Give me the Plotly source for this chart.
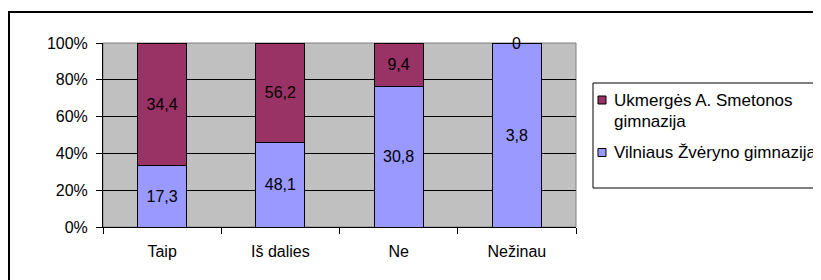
import plotly.graph_objects as go

categories = ["Taip", "Iš dalies", "Ne", "Nežinau"]
vilnius = [17.3, 48.1, 30.8, 3.8]
ukmerge = [34.4, 56.2, 9.4, 0]
series_names = ["Vilniaus Žvėryno gimnazija", "Ukmergės A. Smetonos<br>gimnazija"]
series_colors = ["#9999FF", "#993366"]
y_ticks = [0, 20, 40, 60, 80, 100]
y_tick_labels = ["0%", "20%", "40%", "60%", "80%", "100%"]

# page has an 8px body margin; figure is placed at (8, 8)
OFF = 8
W, H = 821 - OFF, 280 - OFF
L, R, T, B = 103 - OFF, 245, 43 - OFF, 53
PW, PH = W - L - R, H - T - B


def px_x(p):  # page pixel -> paper
    return (p - OFF - L) / PW


def px_y(p):
    return (H - B - (p - OFF)) / PH


def fmt(v):
    return f"{v:g}".replace(".", ",")


FONT = "Liberation Sans, Arial, sans-serif"
FS = 16
LFS = 17

fig = go.Figure()
for vals, name, col in zip([vilnius, ukmerge], series_names, series_colors):
    fig.add_trace(go.Bar(
        x=categories, y=vals, name=name, showlegend=False,
        marker=dict(color=col, line=dict(color="black", width=1)),
        text=[fmt(v) for v in vals], textposition="inside",
        insidetextanchor="middle", textangle=0,
        textfont=dict(color="black", size=FS, family=FONT),
        constraintext="none",
    ))

# labels for zero-height segments (sitting on top of the stack)
for c, v in zip(categories, ukmerge):
    if v == 0:
        fig.add_annotation(x=c, y=100, text=fmt(v), showarrow=False,
                           yanchor="middle", font=dict(size=FS, color="black", family=FONT))

shapes = [
    dict(type="rect", xref="paper", yref="paper",
         x0=px_x(9), x1=px_x(840), y0=px_y(300), y1=px_y(12),
         line=dict(color="black", width=2), layer="below"),
    dict(type="rect", xref="paper", yref="paper",
         x0=0, x1=1, y0=0, y1=1, line=dict(color="#808080", width=1), layer="below"),
    dict(type="rect", xref="paper", yref="paper",
         x0=px_x(593), x1=px_x(845), y0=px_y(188), y1=px_y(83),
         line=dict(color="black", width=1), fillcolor="white", layer="below"),
]

# hand-placed legend (Ukmergės first, as in the reference)
legend_rows = [(1, 100), (0, 152.5)]
for idx, yc in legend_rows:
    shapes.append(dict(type="rect", xref="paper", yref="paper",
                       x0=px_x(598), x1=px_x(606), y0=px_y(yc + 4), y1=px_y(yc - 4),
                       line=dict(color="black", width=1), fillcolor=series_colors[idx]))
    for k, line in enumerate(series_names[idx].split("<br>")):
        fig.add_annotation(xref="paper", yref="paper", x=px_x(612), y=px_y(yc + 21 * k),
                           text=line, showarrow=False, xanchor="left", yanchor="middle",
                           font=dict(size=LFS, color="black", family=FONT))

fig.update_layout(
    width=W, height=H,
    margin=dict(l=L, r=R, t=T, b=B, pad=0),
    barmode="stack", barnorm="percent", bargap=0.585,
    paper_bgcolor="white", plot_bgcolor="#C0C0C0",
    font=dict(family=FONT, size=FS, color="black"),
    showlegend=False,
    shapes=shapes,
    xaxis=dict(showgrid=False, showline=True, linecolor="black", linewidth=1,
               ticks="outside", tickson="boundaries", ticklen=6, tickcolor="black",
               ticklabelstandoff=10, fixedrange=True),
    yaxis=dict(range=[0, 100], tickvals=y_ticks, ticktext=y_tick_labels,
               showgrid=True, gridcolor="black", gridwidth=1,
               showline=True, linecolor="black", linewidth=1,
               ticks="outside", ticklen=6, tickcolor="black",
               ticklabelstandoff=5, zeroline=False, fixedrange=True),
)

fig.write_html("out.html")
